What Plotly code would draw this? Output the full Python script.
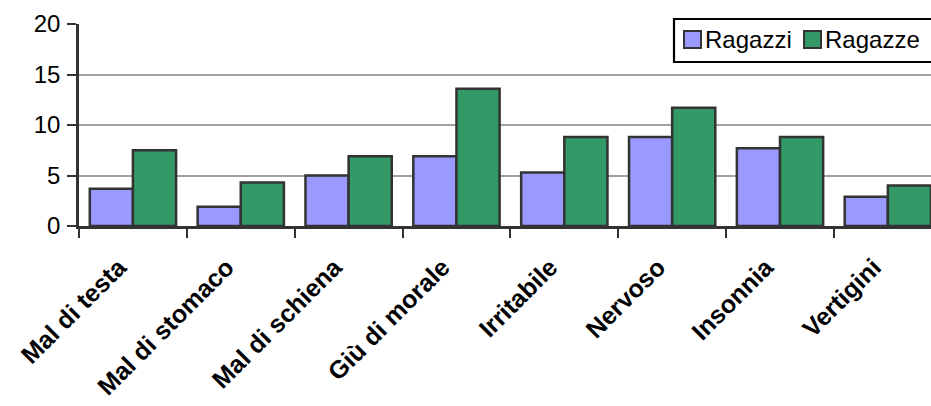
import plotly.graph_objects as go

# Disturbi riferiti, per sesso (valori percentuali)
categorie = ["Mal di testa", "Mal di stomaco", "Mal di schiena", "Giù di morale",
             "Irritabile", "Nervoso", "Insonnia", "Vertigini"]
serie = ["Ragazzi", "Ragazze"]
ragazzi = [3.7, 1.9, 5.0, 6.9, 5.3, 8.8, 7.7, 2.9]
ragazze = [7.5, 4.3, 6.9, 13.6, 8.8, 11.7, 8.8, 4.0]
y_ticks = [0, 5, 10, 15, 20]

FONT = "Liberation Sans, Arial, sans-serif"
EDGE = "#333333"
COLORI = ["#9999FF", "#339966"]
OUTLINE = dict(color=EDGE, width=2.5)

fig = go.Figure()
for nome, valori, colore in zip(serie, [ragazzi, ragazze], COLORI):
    fig.add_trace(go.Bar(name=nome, x=categorie, y=valori, showlegend=False,
                         marker=dict(color=colore, line=OUTLINE)))

# Plot area in pixels, used to place the boxed legend in paper coordinates
W, H = 931, 406
L, R, T, B = 79, 0, 24, 180
pw, ph = W - L - R, H - T - B


def px_x(x):
    return (x - L) / pw


def px_y(y):
    return (H - B - y) / ph


shapes = [dict(type="rect", xref="paper", yref="paper",
               x0=px_x(674), x1=px_x(940), y0=px_y(62), y1=px_y(19),
               fillcolor="white", line=dict(color="black", width=2.2), layer="above")]
annotations = []
for nome, colore, sx in zip(serie, COLORI, [684, 804]):
    shapes.append(dict(type="rect", xref="paper", yref="paper",
                       x0=px_x(sx), x1=px_x(sx + 17), y0=px_y(48), y1=px_y(31),
                       fillcolor=colore, line=dict(color=EDGE, width=2), layer="above"))
    annotations.append(dict(xref="paper", yref="paper", x=px_x(sx + 19), y=px_y(39.5),
                            xanchor="left", yanchor="middle", showarrow=False,
                            text=nome, font=dict(size=24, family=FONT, color="black")))

fig.update_layout(
    width=W, height=H,
    margin=dict(l=L, r=R, t=T, b=B),
    paper_bgcolor="white", plot_bgcolor="white",
    barmode="group", bargap=0.2, bargroupgap=0,
    font=dict(family=FONT, color="black"),
    shapes=shapes, annotations=annotations,
    xaxis=dict(
        type="category", range=[-0.5, 7.4], tickson="boundaries",
        ticks="outside", ticklen=9, tickwidth=2, tickcolor=EDGE,
        showline=True, linecolor=EDGE, linewidth=2.5,
        showgrid=False, tickangle=-45, automargin=False,
        tickfont=dict(size=25, family=FONT, weight="bold"),
        ticklabelstandoff=14, ticklabelshift=-14,
    ),
    yaxis=dict(
        range=[0, 20], tickvals=y_ticks, ticks="outside", ticklen=9,
        tickwidth=2, tickcolor=EDGE, automargin=False,
        showline=True, linecolor=EDGE, linewidth=2.5,
        showgrid=True, gridcolor="#A0A0A0", gridwidth=2,
        zeroline=False, tickfont=dict(size=24, family=FONT),
        ticklabelstandoff=2,
    ),
)

fig.write_html("out.html")
